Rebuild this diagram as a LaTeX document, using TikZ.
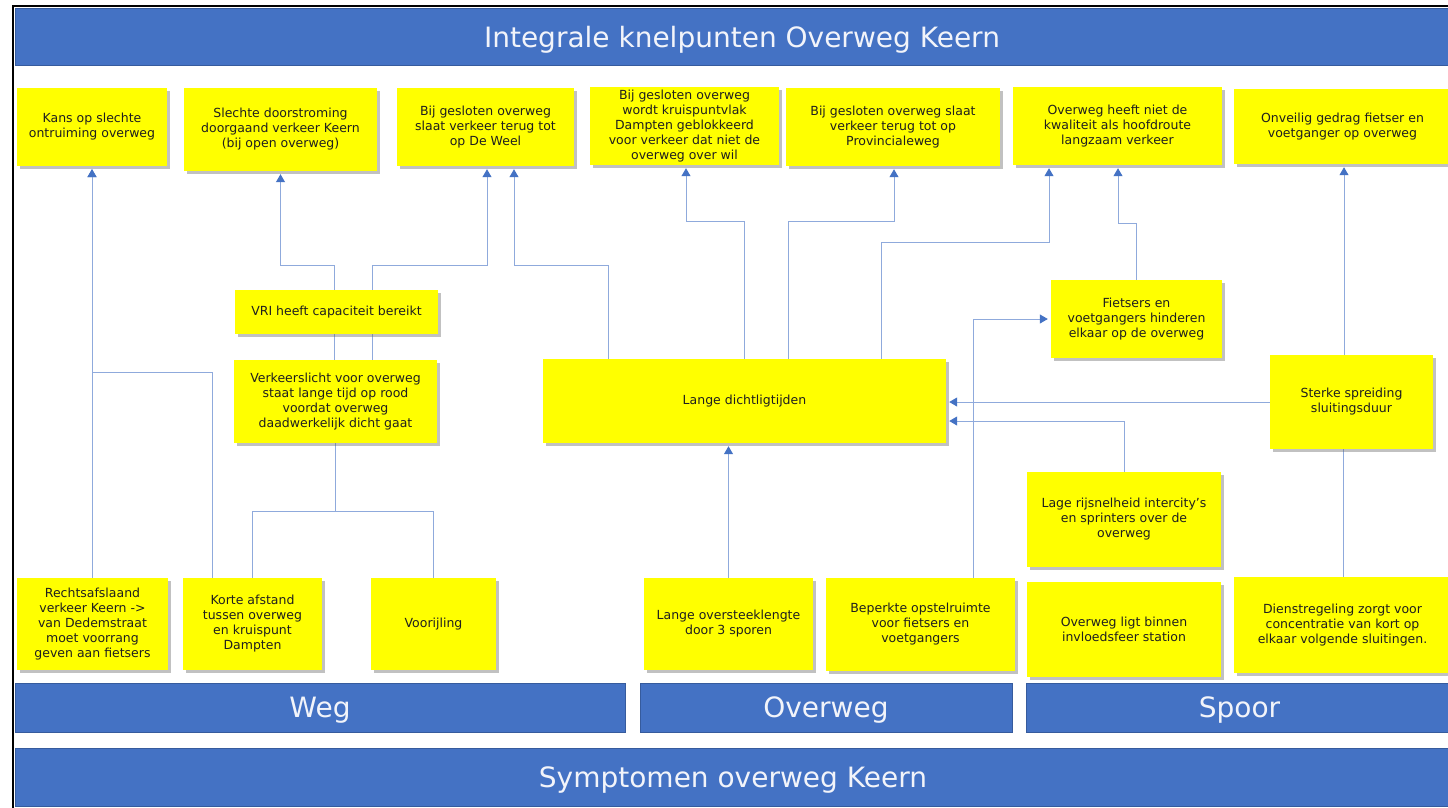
\documentclass[tikz,border=0pt]{standalone}
\usepackage{fontspec}
\setmainfont{DejaVu Sans}
\usetikzlibrary{arrows.meta,shadows}
\definecolor{barblue}{HTML}{4472C4}
\definecolor{linkblue}{HTML}{8FAADC}
\definecolor{tipblue}{HTML}{4472C4}
\definecolor{boxyellow}{HTML}{FFFF00}
\definecolor{bartxt}{HTML}{F2F4FA}
\pgfdeclarelayer{paper}\pgfdeclarelayer{bg}\pgfsetlayers{paper,bg,main}
\newcommand\rectnode[7]{%
 \pgfmathsetmacro\rcx{(#3+#5)/2}\pgfmathsetmacro\rcy{(#4+#6)/2}%
 \pgfmathsetmacro\rw{#5-#3}\pgfmathsetmacro\rh{#6-#4}%
 \node[#1, minimum width=\rw pt, minimum height=\rh pt] (#2) at (\rcx,\rcy) {#7};}
\newcommand\lowered[1]{\raisebox{-3pt}[\height][\depth]{#1}}
\tikzset{
 ybox/.style={fill=boxyellow, inner sep=0pt, align=center, text=black!88,
   font=\fontsize{12.5}{15}\selectfont,
   drop shadow={shadow xshift=2.5pt, shadow yshift=-3pt, opacity=0.4, fill=black!60}},
 bar/.style={fill=barblue, draw=barblue!80!black, line width=0.6pt, inner sep=0pt,
   text=bartxt, font=\fontsize{28}{32}\selectfont},
 link/.style={draw=linkblue, line width=1pt},
 arr/.style={link, -{Triangle[width=9pt,length=8pt,color=tipblue]}, shorten >=3pt},
}
\begin{document}
\begin{tikzpicture}[x=1pt,y=-1pt]
\useasboundingbox (0,0) rectangle (1448,807);
\begin{pgfonlayer}{paper}
\fill[white] (0,0) rectangle (1448,807);
\end{pgfonlayer}
\draw[line width=2pt] (13,809) -- (13,6) -- (1452,6);
% bars
\rectnode{bar}{title}{15}{8}{1469}{65}{\lowered{Integrale knelpunten Overweg Keern}}
\rectnode{bar}{weg}{15}{683}{625}{732}{\lowered{Weg}}
\rectnode{bar}{overweg}{640}{683}{1012}{732}{\lowered{Overweg}}
\rectnode{bar}{spoor}{1026}{683}{1453}{732}{\lowered{Spoor}}
\rectnode{bar}{sympt}{15}{748}{1451}{806}{\lowered{Symptomen overweg Keern}}
% top row
\rectnode{ybox}{kans}{17}{88}{167}{166}{Kans op slechte\\ontruiming overweg}
\rectnode{ybox}{slechte}{184}{88}{377}{171}{Slechte doorstroming\\doorgaand verkeer Keern\\(bij open overweg)}
\rectnode{ybox}{deweel}{397}{88}{574}{166}{Bij gesloten overweg\\slaat verkeer terug tot\\op De Weel}
\rectnode{ybox}{kruis}{590}{87}{779}{165}{Bij gesloten overweg\\wordt kruispuntvlak\\Dampten geblokkeerd\\voor verkeer dat niet de\\overweg over wil}
\rectnode{ybox}{prov}{786}{88}{1000}{166}{Bij gesloten overweg slaat\\verkeer terug tot op\\Provincialeweg}
\rectnode{ybox}{kwal}{1013}{87}{1222}{165}{Overweg heeft niet de\\kwaliteit als hoofdroute\\langzaam verkeer}
\rectnode{ybox}{onv}{1234}{89}{1451}{164}{Onveilig gedrag fietser en\\voetganger op overweg}
% middle
\rectnode{ybox}{vri}{235}{290}{438}{334}{VRI heeft capaciteit bereikt}
\rectnode{ybox}{verk}{234}{360}{437}{443}{Verkeerslicht voor overweg\\staat lange tijd op rood\\voordat overweg\\daadwerkelijk dicht gaat}
\rectnode{ybox}{lange}{543}{359}{946}{443}{Lange dichtligtijden}
\rectnode{ybox}{fiets}{1051}{280}{1222}{358}{Fietsers en\\voetgangers hinderen\\elkaar op de overweg}
\rectnode{ybox}{sterke}{1270}{355}{1433}{449}{Sterke spreiding\\sluitingsduur}
\rectnode{ybox}{lage}{1027}{472}{1221}{567}{Lage rijsnelheid intercity’s\\en sprinters over de\\overweg}
% bottom row
\rectnode{ybox}{rechts}{17}{578}{168}{670}{Rechtsafslaand\\verkeer Keern ->\\van Dedemstraat\\moet voorrang\\geven aan fietsers}
\rectnode{ybox}{korte}{183}{578}{322}{670}{Korte afstand\\tussen overweg\\en kruispunt\\Dampten}
\rectnode{ybox}{voor}{371}{578}{496}{670}{Voorijling}
\rectnode{ybox}{over}{644}{578}{813}{670}{Lange oversteeklengte\\door 3 sporen}
\rectnode{ybox}{beperkt}{826}{578}{1015}{671}{Beperkte opstelruimte\\voor fietsers en\\voetgangers}
\rectnode{ybox}{ligt}{1027}{582}{1221}{677}{Overweg ligt binnen\\invloedsfeer station}
\rectnode{ybox}{dienst}{1234}{577}{1451}{673}{Dienstregeling zorgt voor\\concentratie van kort op\\elkaar volgende sluitingen.}
% connectors
\begin{pgfonlayer}{bg}
\draw[arr] (rechts.north -| kans.south) -- (kans.south);
\draw[arr] (korte.north -| 212,0) -- (212,372) -| (kans.south);
\draw[link] (korte.north -| 252,0) |- (verk.south |- 0,511) -- (verk.south);
\draw[link] (voor.north) |- (verk.south |- 0,511);
\draw[arr] (verk.north -| 334,0) -- (334,265) -| (slechte.south);
\draw[arr] (verk.north -| 372,0) -- (372,265) -| (deweel.south -| 487,0);
\draw[arr] (lange.north -| 608,0) -- (608,265) -| (deweel.south -| 514,0);
\draw[arr] (lange.north -| 744,0) -- (744,221) -| (kruis.south -| 686,0);
\draw[arr] (lange.north -| 788,0) -- (788,221) -| (prov.south -| 894,0);
\draw[arr] (lange.north -| 881,0) -- (881,242) -| (kwal.south -| 1049,0);
\draw[arr] (fiets.north) -- (fiets.north |- 0,223) -| (kwal.south -| 1118,0);
\draw[arr] (beperkt.north -| 973,0) |- (fiets.west);
\draw[arr] (over.north) -- (lange.south -| over.north);
\draw[arr] (sterke.west) -- (lange.east |- sterke.west);
\draw[arr] (lage.north) |- (lange.east |- 0,421);
\draw[arr] (sterke.north -| 1344,0) -- (onv.south -| 1344,0);
\draw[link] (dienst.north -| 1343,0) -- (sterke.south -| 1343,0);
\end{pgfonlayer}
\end{tikzpicture}
\end{document}
